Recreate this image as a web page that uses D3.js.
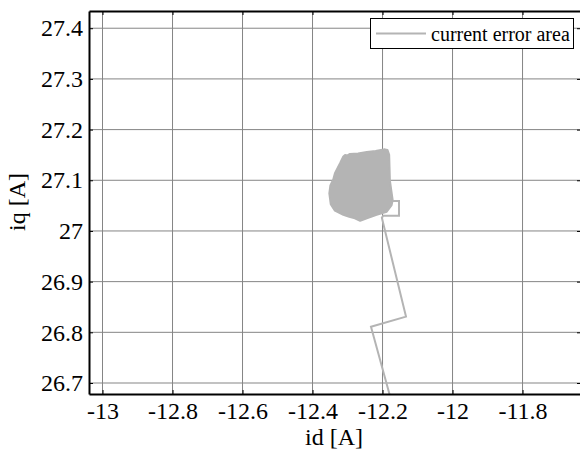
<!DOCTYPE html>
<html>
<head>
<meta charset="utf-8">
<script src="https://cdn.jsdelivr.net/npm/d3@7"></script>
<style>
  html, body { margin: 0; padding: 0; background: #fff; }
  svg text { font-family: "Liberation Serif", "Times New Roman", Times, "DejaVu Serif", serif; fill: #000; }
</style>
</head>
<body>
<svg id="chart" width="580" height="450"></svg>
<script>
// Axis ticks
const xTicks = [-13, -12.8, -12.6, -12.4, -12.2, -12, -11.8];
const xTickLabels = ["-13", "-12.8", "-12.6", "-12.4", "-12.2", "-12", "-11.8"];
const yTicks = [26.7, 26.8, 26.9, 27, 27.1, 27.2, 27.3, 27.4];
const yTickLabels = ["26.7", "26.8", "26.9", "27", "27.1", "27.2", "27.3", "27.4"];

// Approach trajectory of the current vector (id, iq) before it settles
const approachId = [-12.175, -12.233, -12.133, -12.202, -12.198, -12.153, -12.153, -12.174];
const approachIq = [26.665, 26.811, 26.831, 27.026, 27.030, 27.030, 27.059, 27.059];

// Outline of the region swept by the settled current error
const blobId = [-12.307, -12.300, -12.293, -12.270, -12.245, -12.220, -12.193, -12.186, -12.181,
                -12.180, -12.179, -12.175, -12.171, -12.174, -12.188, -12.217, -12.245, -12.264,
                -12.279, -12.295, -12.312, -12.336, -12.348, -12.352, -12.349, -12.341, -12.336,
                -12.321, -12.312];
const blobIq = [27.150, 27.149, 27.152, 27.153, 27.156, 27.158, 27.161, 27.160, 27.150,
                27.125, 27.100, 27.080, 27.061, 27.051, 27.038, 27.032, 27.025, 27.020,
                27.025, 27.028, 27.032, 27.040, 27.053, 27.074, 27.090, 27.101, 27.114,
                27.134, 27.147];

const seriesName = "current error area";
const seriesColor = "#b4b4b4";
const serif = '"Liberation Serif", "Times New Roman", Times, "DejaVu Serif", serif';

const svg = d3.select("#chart");
const plotL = 89, plotT = 11, plotR = 581, plotB = 394;

const x = d3.scaleLinear().domain([-13.0386, -11.633]).range([plotL, plotR]);
const y = d3.scaleLinear().domain([26.6783, 27.434]).range([plotB, plotT]);

svg.append("defs").append("clipPath").attr("id", "plotClip")
  .append("rect").attr("x", plotL).attr("y", plotT)
  .attr("width", plotR - plotL).attr("height", plotB - plotT);

// Grid
const grid = svg.append("g").attr("stroke", "#858585").attr("stroke-width", 1);
grid.selectAll("line.vx").data(xTicks).join("line")
  .attr("x1", d => x(d)).attr("x2", d => x(d))
  .attr("y1", plotT).attr("y2", plotB);
grid.selectAll("line.hy").data(yTicks).join("line")
  .attr("x1", plotL).attr("x2", plotR)
  .attr("y1", d => y(d)).attr("y2", d => y(d));

// Data
const plot = svg.append("g").attr("clip-path", "url(#plotClip)");
const blobPts = blobId.map((d, i) => [d, blobIq[i]]);
plot.append("path")
  .attr("d", d3.line().x(d => x(d[0])).y(d => y(d[1])).curve(d3.curveLinearClosed)(blobPts))
  .attr("fill", seriesColor).attr("stroke", seriesColor).attr("stroke-width", 2)
  .attr("stroke-linejoin", "round");
const approachPts = approachId.map((d, i) => [d, approachIq[i]]);
plot.append("path")
  .attr("d", d3.line().x(d => x(d[0])).y(d => y(d[1]))(approachPts))
  .attr("fill", "none").attr("stroke", seriesColor).attr("stroke-width", 2);

// Legend
const lg = svg.append("g");
lg.append("rect").attr("x", 370.5).attr("y", 18.5).attr("width", 203).attr("height", 30)
  .attr("fill", "#fff").attr("stroke", "#000").attr("stroke-width", 1);
lg.append("line").attr("x1", 376).attr("x2", 426).attr("y1", 33.5).attr("y2", 33.5)
  .attr("stroke", seriesColor).attr("stroke-width", 2);
lg.append("text").attr("x", 431).attr("y", 40.5)
  .style("font-family", serif).style("font-size", "20px").text(seriesName);

// Axes
const fmtX = d => xTickLabels[xTicks.indexOf(d)];
const fmtY = d => yTickLabels[yTicks.indexOf(d)];

const axB = svg.append("g").attr("transform", `translate(0,${plotB})`)
  .call(d3.axisBottom(x).tickValues(xTicks).tickFormat(fmtX)
    .tickSizeInner(-4).tickSizeOuter(0).tickPadding(8));
const axL = svg.append("g").attr("transform", `translate(${plotL},0)`)
  .call(d3.axisLeft(y).tickValues(yTicks).tickFormat(fmtY)
    .tickSizeInner(-4).tickSizeOuter(0).tickPadding(6));
const axT = svg.append("g").attr("transform", `translate(0,${plotT})`)
  .call(d3.axisTop(x).tickValues(xTicks).tickFormat("")
    .tickSizeInner(-4).tickSizeOuter(0));
const axR = svg.append("g").attr("transform", `translate(${plotR},0)`)
  .call(d3.axisRight(y).tickValues(yTicks).tickFormat("")
    .tickSizeInner(-4).tickSizeOuter(0));

[axB, axL, axT, axR].forEach(a => {
  a.attr("font-family", null).attr("font-size", null);
  a.select(".domain").attr("stroke", "#000").attr("stroke-width", 2);
  a.selectAll(".tick line").attr("stroke", "#000").attr("stroke-width", 1);
  a.selectAll("text").style("font-family", serif)
    .style("font-size", "24px").attr("fill", "#000");
});

// Axis titles
svg.append("text").attr("x", (plotL + plotR) / 2 - 1).attr("y", 445)
  .attr("text-anchor", "middle").style("font-family", serif).style("font-size", "24px").text("id [A]");
svg.append("text").attr("transform", "translate(25,202) rotate(-90)")
  .attr("text-anchor", "middle").style("font-family", serif).style("font-size", "24px").text("iq [A]");
</script>
</body>
</html>
